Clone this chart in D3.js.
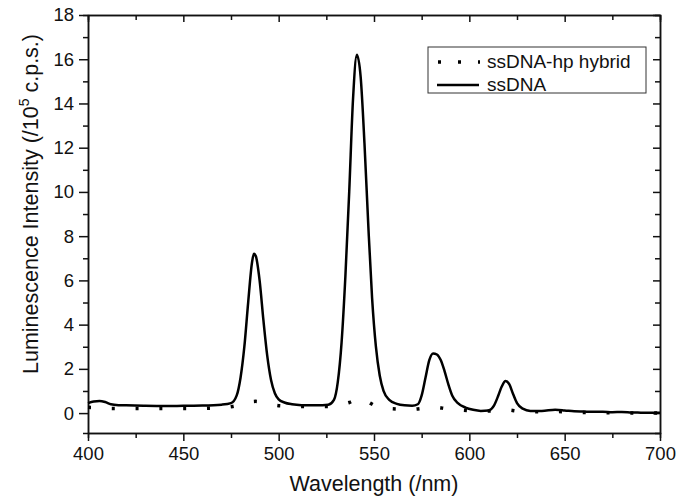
<!DOCTYPE html>
<html>
<head>
<meta charset="utf-8">
<script src="https://cdn.jsdelivr.net/npm/d3@7"></script>
<style>
  body { margin: 0; background: #fff; }
  text { font-family: "Liberation Sans", Arial, sans-serif; fill: #111; }
  .domain { stroke: #111; stroke-width: 1.5; }
  .tick line { stroke: #111; stroke-width: 1.5; }
</style>
</head>
<body>
<div id="chart"></div>
<script>
// ssDNA (solid line): wavelength (nm) and intensity (x10^5 c.p.s.)
var ssWave = [400, 403, 406, 409, 412, 416, 420, 430, 440, 450, 460, 470, 475, 478, 480, 482, 484, 486, 487, 488,
    490, 492, 494, 496, 498, 500, 503, 507, 512, 520, 526, 529, 531, 533, 535, 537, 539, 541, 543, 545,
    547, 549, 551, 553, 555, 558, 562, 566, 570, 573, 575, 577, 579, 581, 583, 585, 587, 589, 591, 594,
    598, 602, 606, 610, 613, 615, 617, 619, 621, 623, 625, 628, 632, 638, 645, 650, 655, 660, 665, 670,
    675, 680, 685, 690, 695, 700];
var ssValue = [0.45, 0.52, 0.55, 0.50, 0.40, 0.36, 0.35, 0.33, 0.32, 0.33, 0.34, 0.38, 0.45, 0.8, 1.6, 3.0, 5.0, 6.8, 7.2, 7.1,
    6.0, 4.2, 2.6, 1.5, 0.9, 0.62, 0.48, 0.40, 0.36, 0.35, 0.38, 0.6, 1.4, 3.2, 6.2, 10.0, 14.2, 16.2, 15.2, 12.2,
    8.5, 5.2, 3.0, 1.7, 1.0, 0.6, 0.42, 0.35, 0.33, 0.4, 0.8, 1.6, 2.4, 2.7, 2.65, 2.4, 1.9, 1.3, 0.8, 0.45,
    0.25, 0.15, 0.10, 0.12, 0.35, 0.75, 1.2, 1.45, 1.3, 0.85, 0.45, 0.2, 0.10, 0.10, 0.15, 0.12, 0.08, 0.07, 0.06, 0.06,
    0.04, 0.05, 0.03, 0.02, 0.01, 0.01];

// ssDNA-hp hybrid (dotted line)
var hybWave = [400, 406, 413, 420, 430, 440, 450, 463, 476, 482, 488, 494, 501, 513, 526, 532, 537, 541, 544, 548,
    552, 557, 570, 576, 582, 588, 595, 607, 614, 620, 626, 632, 645, 657, 670, 682, 695, 700];
var hybValue = [0.26, 0.24, 0.21, 0.21, 0.21, 0.21, 0.21, 0.22, 0.30, 0.45, 0.53, 0.42, 0.33, 0.30, 0.30, 0.38, 0.48, 0.62, 0.66, 0.45,
    0.28, 0.21, 0.17, 0.22, 0.26, 0.2, 0.14, 0.09, 0.11, 0.14, 0.08, 0.06, 0.07, 0.03, 0.02, 0.01, 0.0, 0.0];

// tick values
var xMajor = [400, 450, 500, 550, 600, 650, 700];
var xMinor = [425, 475, 525, 575, 625, 675];
var yMajor = [0, 2, 4, 6, 8, 10, 12, 14, 16, 18];
var yMinor = [1, 3, 5, 7, 9, 11, 13, 15, 17];

var legendNames = ["ssDNA-hp hybrid", "ssDNA"];

var svgWidth = 678;
var svgHeight = 500;

var margin = {
    top: 15,
    right: 18,
    bottom: 67,
    left: 88
};

var width = svgWidth - margin.left - margin.right;
var height = svgHeight - margin.top - margin.bottom;

var svg = d3.select("#chart")
    .append("svg")
    .attr("width", svgWidth)
    .attr("height", svgHeight);

var chartGroup = svg.append("g")
    .attr("transform", `translate(${margin.left}, ${margin.top})`);

var xScale = d3.scaleLinear()
    .domain([400, 700])
    .range([0, width]);

var yScale = d3.scaleLinear()
    .domain([-0.9, 18])
    .range([height, 0]);

// bottom + left axes, ticks outward
chartGroup.append("g")
    .attr("transform", `translate(0, ${height})`)
    .call(d3.axisBottom(xScale).tickValues(xMinor).tickSize(5).tickFormat(""));
chartGroup.append("g")
    .attr("transform", `translate(0, ${height})`)
    .call(d3.axisBottom(xScale).tickValues(xMajor).tickSize(8).tickSizeOuter(0).tickPadding(6))
    .selectAll("text")
    .attr("font-size", 18.5);

chartGroup.append("g")
    .call(d3.axisLeft(yScale).tickValues(yMinor).tickSize(5).tickFormat(""));
chartGroup.append("g")
    .call(d3.axisLeft(yScale).tickValues(yMajor).tickSize(9).tickSizeOuter(0).tickPadding(5))
    .selectAll("text")
    .attr("font-size", 18.5);

// top + right axes, ticks inward
chartGroup.append("g")
    .call(d3.axisTop(xScale).tickValues(xMinor).tickSize(-5).tickFormat(""));
chartGroup.append("g")
    .call(d3.axisTop(xScale).tickValues(xMajor).tickSize(-7).tickSizeOuter(0).tickFormat(""));
chartGroup.append("g")
    .attr("transform", `translate(${width}, 0)`)
    .call(d3.axisRight(yScale).tickValues(yMinor).tickSize(-5).tickFormat(""));
chartGroup.append("g")
    .attr("transform", `translate(${width}, 0)`)
    .call(d3.axisRight(yScale).tickValues(yMajor).tickSize(-7).tickSizeOuter(0).tickFormat(""));

chartGroup.selectAll(".domain").attr("stroke-width", 1.5);

var ssData = ssWave.map((w, i) => ({ x: w, y: ssValue[i] }));
var hybData = hybWave.map((w, i) => ({ x: w, y: hybValue[i] }));

var line = d3.line()
    .x(d => xScale(d.x))
    .y(d => yScale(d.y))
    .curve(d3.curveMonotoneX);

chartGroup.append("path")
    .datum(hybData)
    .attr("d", line)
    .attr("fill", "none")
    .attr("stroke", "#000")
    .attr("stroke-width", 3.5)
    .attr("stroke-dasharray", "3,20.8");

chartGroup.append("path")
    .datum(ssData)
    .attr("d", line)
    .attr("fill", "none")
    .attr("stroke", "#000")
    .attr("stroke-width", 2.5)
    .attr("stroke-linejoin", "round");

// legend
var legend = svg.append("g");

legend.append("rect")
    .attr("x", 428)
    .attr("y", 47)
    .attr("width", 218)
    .attr("height", 46)
    .attr("fill", "#fff")
    .attr("stroke", "#333")
    .attr("stroke-width", 1);

legend.append("line")
    .attr("x1", 438).attr("x2", 480)
    .attr("y1", 62).attr("y2", 62)
    .attr("stroke", "#000")
    .attr("stroke-width", 3.5)
    .attr("stroke-dasharray", "3,17");

legend.append("line")
    .attr("x1", 437).attr("x2", 479)
    .attr("y1", 85).attr("y2", 85)
    .attr("stroke", "#000")
    .attr("stroke-width", 2.5);

legend.selectAll(".legend-text")
    .data(legendNames)
    .enter()
    .append("text")
    .attr("x", 487)
    .attr("y", (d, i) => 68 + i * 23)
    .attr("font-size", 19)
    .text(d => d);

// axis titles
svg.append("text")
    .attr("x", margin.left + width / 2)
    .attr("y", 491)
    .attr("text-anchor", "middle")
    .attr("font-size", 21.5)
    .text("Wavelength (/nm)");

var yTitle = svg.append("text")
    .attr("transform", "translate(38, 204) rotate(-90)")
    .attr("text-anchor", "middle")
    .attr("font-size", 21.5);
yTitle.append("tspan").text("Luminescence Intensity (/10");
yTitle.append("tspan").attr("dy", -9).attr("font-size", 14).text("5");
yTitle.append("tspan").attr("dy", 9).text(" c.p.s.)");
</script>
</body>
</html>
